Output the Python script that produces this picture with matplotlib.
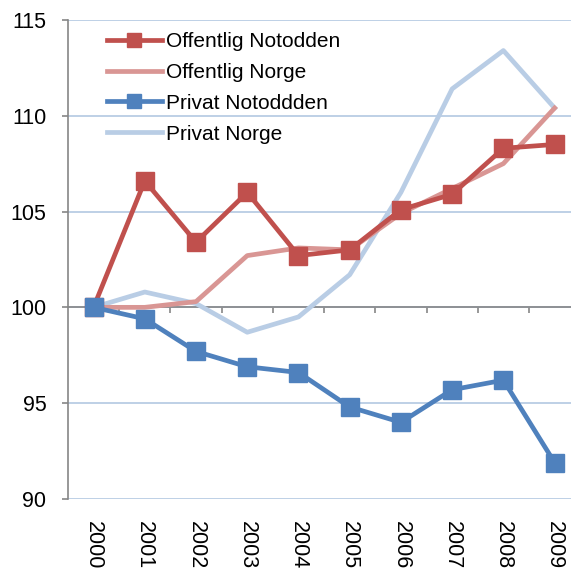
import numpy as np
import matplotlib.pyplot as plt

plt.rcParams["font.family"] = ["Liberation Sans", "DejaVu Sans"]

# ── Data ────────────────────────────────────────────────────────────────────
years = ["2000", "2001", "2002", "2003", "2004", "2005", "2006", "2007", "2008", "2009"]
offentlig_notodden = [100.0, 106.6, 103.4, 106.0, 102.7, 103.0, 105.1, 105.9, 108.3, 108.5]
offentlig_norge = [100.0, 100.0, 100.3, 102.7, 103.1, 103.0, 104.9, 106.2, 107.5, 110.4]
privat_notodden = [100.0, 99.4, 97.7, 96.9, 96.6, 94.8, 94.0, 95.7, 96.2, 91.9]
privat_norge = [100.0, 100.8, 100.2, 98.7, 99.5, 101.7, 106.0, 111.4, 113.4, 110.4]

C_RED = "#C0504D"
C_PINK = "#D99694"
C_BLUE = "#4F81BD"
C_LBLUE = "#B9CDE5"
C_GRID = "#B3C8E2"
C_AXIS = "#868686"

x = np.arange(len(years))

fig = plt.figure(figsize=(5.71, 5.68), dpi=100)
ax = fig.add_axes([0.119, 0.1215, 0.881, 0.8435])

ax.plot(x, offentlig_notodden, color=C_RED, lw=3.4, marker="s", ms=13,
        label="Offentlig Notodden", zorder=4)
ax.plot(x, offentlig_norge, color=C_PINK, lw=3.4, label="Offentlig Norge", zorder=3)
ax.plot(x, privat_notodden, color=C_BLUE, lw=3.4, marker="s", ms=13,
        label="Privat Notoddden", zorder=4)
ax.plot(x, privat_norge, color=C_LBLUE, lw=3.4, label="Privat Norge", zorder=2)

ax.set_xlim(-0.5, 9.32)
ax.set_ylim(90, 115)
ax.set_yticks([90, 95, 100, 105, 110, 115])
ax.grid(axis="y", color=C_GRID, lw=1.2, zorder=0)
ax.set_axisbelow(True)

for s in ["top", "right"]:
    ax.spines[s].set_visible(False)
ax.spines["left"].set_color(C_AXIS)
ax.spines["left"].set_linewidth(1.2)
ax.spines["bottom"].set_position(("data", 100))
ax.spines["bottom"].set_color(C_AXIS)
ax.spines["bottom"].set_linewidth(1.2)
ax.spines["bottom"].set_zorder(1)

# tick marks between categories on the 100-line
ax.set_xticks(np.arange(0.5, 9.5, 1.0))
ax.set_xticklabels([])
ax.tick_params(axis="x", direction="out", length=4.5, color=C_AXIS, width=1.2)
ax.tick_params(axis="y", direction="out", length=4.5, color=C_AXIS, width=1.2,
               labelsize=15.5, pad=11)

# year labels at the bottom
sec = ax.secondary_xaxis(0.0)
sec.set_xticks(x)
sec.set_xticklabels(years, rotation=-90, fontsize=15.5)
sec.tick_params(length=0, pad=16)
sec.spines["bottom"].set_visible(False)

leg = ax.legend(loc="upper left", bbox_to_anchor=(0.05, 1.003), frameon=False,
                fontsize=15, handlelength=2.65, labelspacing=0.57,
                handletextpad=0.2, borderaxespad=0.25, markerscale=0.75)

fig.savefig("out.png", dpi=100)
